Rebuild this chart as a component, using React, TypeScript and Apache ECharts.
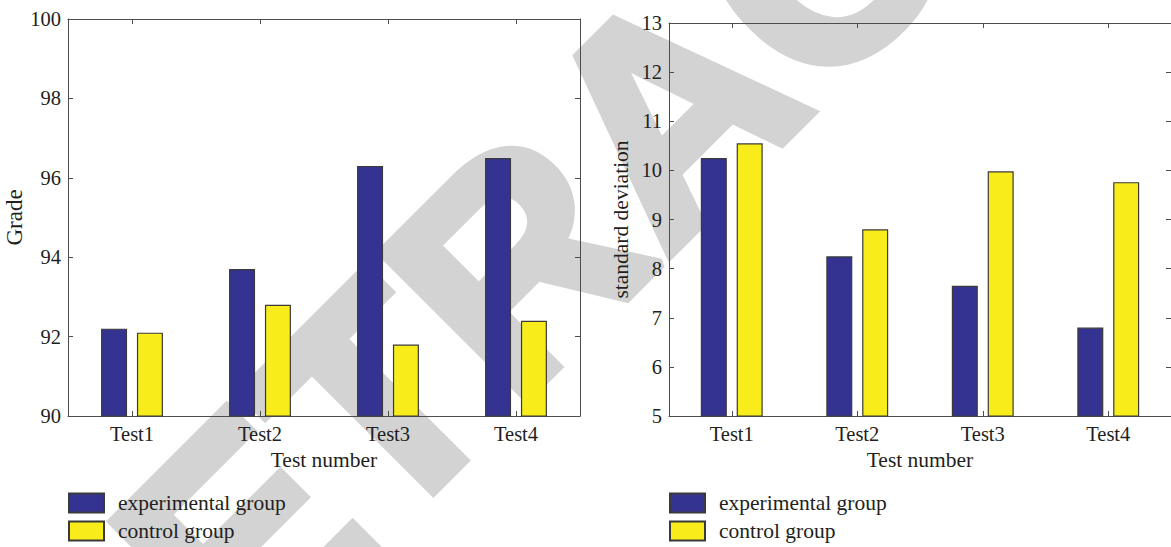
import React, { useEffect, useRef } from "react";
import * as echarts from "echarts";

const categories = ["Test1", "Test2", "Test3", "Test4"];
const gradeExperimental = [92.2, 93.7, 96.3, 96.5];
const gradeControl = [92.1, 92.8, 91.8, 92.4];
const sdExperimental = [10.25, 8.25, 7.65, 6.8];
const sdControl = [10.55, 8.8, 9.98, 9.76];
const seriesNames = ["experimental group", "control group"];

const BLUE = "#353392";
const YELLOW = "#f8ed1b";
const AXIS = "#4d4d4d";
const TEXT = "#231f20";
const FONT = "Liberation Serif, serif";

export default function App() {
  const ref = useRef<HTMLDivElement>(null);
  useEffect(() => {
    if (!ref.current) return;
    const chart = echarts.init(ref.current, undefined, { renderer: "svg" });

    const grids = [
      { left: 68, top: 19, width: 512, height: 397 },
      { left: 669, top: 23, width: 505, height: 393 },
    ];

    const axisLine = { show: true, lineStyle: { color: AXIS, width: 1 } };
    const tick = { show: true, inside: true, length: 5, alignWithLabel: true, lineStyle: { color: AXIS } };
    const ytick = { show: true, inside: true, length: 5, lineStyle: { color: AXIS } };

    const xAxis: any[] = [];
    const yAxis: any[] = [];
    [0, 1].forEach((g) => {
      xAxis.push({
        type: "category",
        gridIndex: g,
        data: categories,
        position: "bottom",
        axisLine,
        axisTick: tick,
        axisLabel: { color: TEXT, fontFamily: FONT, fontSize: 20.5, margin: 7 },
        name: "Test number",
        nameLocation: "middle",
        nameGap: 33,
        nameTextStyle: { color: TEXT, fontFamily: FONT, fontSize: 21.5 },
        splitLine: { show: false },
      });
      xAxis.push({
        type: "category",
        gridIndex: g,
        data: categories,
        position: "top",
        axisLine,
        axisTick: tick,
        axisLabel: { show: false },
        splitLine: { show: false },
      });
    });
    const yCfg = [
      { min: 90, max: 100, interval: 2, name: "Grade", nameGap: 39, nameSize: 23 },
      { min: 5, max: 13, interval: 1, name: "standard deviation", nameGap: 37, nameSize: 21.5 },
    ];
    yCfg.forEach((c, g) => {
      yAxis.push({
        type: "value",
        gridIndex: g,
        min: c.min,
        max: c.max,
        interval: c.interval,
        position: "left",
        axisLine,
        axisTick: ytick,
        axisLabel: { color: TEXT, fontFamily: FONT, fontSize: 20.5, margin: 7 },
        splitLine: { show: false },
        name: c.name,
        nameLocation: "middle",
        nameGap: c.nameGap,
        nameTextStyle: { color: TEXT, fontFamily: FONT, fontSize: c.nameSize },
      });
      yAxis.push({
        type: "value",
        gridIndex: g,
        min: c.min,
        max: c.max,
        interval: c.interval,
        position: "right",
        axisLine,
        axisTick: ytick,
        axisLabel: { show: false },
        splitLine: { show: false },
      });
    });

    const barCommon = {
      type: "bar",
      barWidth: 26,
      barGap: "38%",
    };
    const style = (color: string) => ({ color, borderColor: "#3a3a3a", borderWidth: 1.2 });

    const series: any[] = [
      { ...barCommon, name: seriesNames[0], xAxisIndex: 0, yAxisIndex: 0, data: gradeExperimental, itemStyle: style(BLUE) },
      { ...barCommon, name: seriesNames[1], xAxisIndex: 0, yAxisIndex: 0, data: gradeControl, itemStyle: style(YELLOW) },
      { ...barCommon, name: seriesNames[0], xAxisIndex: 2, yAxisIndex: 2, data: sdExperimental, itemStyle: style(BLUE) },
      { ...barCommon, name: seriesNames[1], xAxisIndex: 2, yAxisIndex: 2, data: sdControl, itemStyle: style(YELLOW) },
    ];

    const mkLegend = (name: string, left: number, top: number) => ({
      orient: "horizontal",
      left,
      top,
      padding: 0,
      itemWidth: 35,
      itemHeight: 19,
      icon: "rect",
      selectedMode: false,
      textStyle: { color: TEXT, fontFamily: FONT, fontSize: 21.5, padding: [0, 0, 0, 9] },
      data: [name],
    });

    chart.setOption({
      animation: false,
      backgroundColor: "#ffffff",
      grid: grids,
      xAxis,
      yAxis,
      series,
      legend: [
        mkLegend(seriesNames[0], 68, 492),
        mkLegend(seriesNames[1], 68, 520),
        mkLegend(seriesNames[0], 669, 492),
        mkLegend(seriesNames[1], 669, 520),
      ],
      graphic: [
        {
          type: "text",
          x: 668,
          y: 110,
          rotation: Math.PI / 4,
          z: -100,
          silent: true,
          style: {
            text: "RETRACTED",
            fill: "#d3d3d3",
            stroke: "#d3d3d3",
            lineWidth: 10,
            fontSize: 298,
            fontWeight: "bold",
            fontFamily: "Liberation Sans, Arial, sans-serif",
            align: "center",
            verticalAlign: "middle",
          },
        },
      ],
    });
    return () => chart.dispose();
  }, []);
  return (
    <div
      ref={ref}
      style={{ position: "absolute", left: 0, top: 0, width: 1171, height: 547 }}
    />
  );
}
